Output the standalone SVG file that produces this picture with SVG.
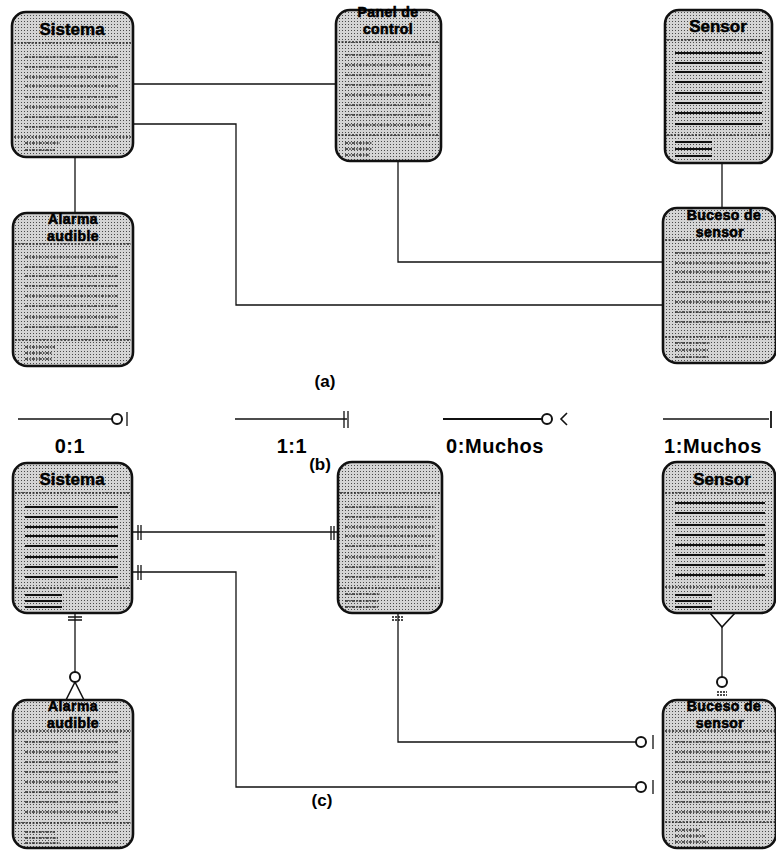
<svg xmlns="http://www.w3.org/2000/svg" width="776" height="850" viewBox="0 0 776 850">
  <defs>
    <!-- halftone stipple used to fill the class boxes -->
    <pattern id="stip" width="3" height="3" patternUnits="userSpaceOnUse">
      <rect width="3" height="3" fill="#d4d4d4"/>
      <rect width="1" height="1" fill="#4a4a4a"/>
    </pattern>
    <style>
      .box { fill: url(#stip); stroke: #111; stroke-width: 2.6; }
      .sep { fill: none; stroke: #222; stroke-width: 1.5; stroke-dasharray: 2 1.5; }
      .dl { fill: none; stroke: #2a2a2a; stroke-width: 1.5; stroke-dasharray: 3 1.2 1.5 1.2; }
      .sl { fill: none; stroke: #111; stroke-width: 2.2; }
      .t { font-family: "Liberation Sans", Arial, sans-serif; font-weight: bold; font-size: 17px; text-anchor: middle; fill: #000; stroke: #000; stroke-width: 0.5; }
      .t2 { font-size: 14px; stroke-width: 0.6; letter-spacing: 0.4px; }
      .wire { fill: none; stroke: #111; stroke-width: 1.3; }
      .mk { fill: none; stroke: #111; stroke-width: 1.3; }
      .ring { fill: #fff; stroke: #111; stroke-width: 2; }
      .lbl { font-family: "Liberation Sans", Arial, sans-serif; font-weight: bold; font-size: 20px; text-anchor: middle; fill: #000; letter-spacing: 0.6px; }
      .cap { font-family: "Liberation Sans", Arial, sans-serif; font-weight: bold; font-size: 17px; text-anchor: middle; fill: #000; }
    </style>
  </defs>

  <!-- ===== (a) ===== -->
  <g id="connectors-a">
    <path class="wire" d="M133 84H337"/>
    <path class="wire" d="M133 124H236V305H663"/>
    <path class="wire" d="M75 157V213"/>
    <path class="wire" d="M398 161V262H663"/>
    <path class="wire" d="M722 163V208"/>
  </g>

  <g id="sistema-a">
    <rect class="box" x="12" y="12" width="121" height="145" rx="14"/>
    <text class="t" x="72" y="35">Sistema</text>
    <path class="sep" d="M14 43H131M14 137H131"/>
    <path class="dl" d="M25 57H118M25 67H118M25 77H118M25 86H118M25 97H118M25 107H118M25 117H118M25 127H118"/>
    <path class="dl" d="M25 143H60M25 150H55"/>
  </g>

  <g id="panel-a">
    <rect class="box" x="336" y="10" width="105" height="151" rx="14"/>
    <text class="t t2" x="388" y="17">Panel de<tspan x="388" dy="17">control</tspan></text>
    <path class="sep" d="M338 42H439M338 135H439"/>
    <path class="dl" d="M345 55H432M345 65H432M345 75H432M345 85H432M345 95H432M345 105H432M345 115H432M345 125H432"/>
    <path class="dl" d="M345 143H372M345 149H372M345 155H370"/>
  </g>

  <g id="sensor-a">
    <rect class="box" x="665" y="10" width="107" height="153" rx="14"/>
    <text class="t" x="718" y="32">Sensor</text>
    <path class="sep" d="M667 40H770M667 135H770"/>
    <path class="sl" d="M675 53H762M675 63H762M675 72H762M675 82H762M675 93H762M675 103H762M675 113H762M675 124H762"/>
    <path class="sl" d="M675 142H712M675 149H712M675 156H712"/>
  </g>

  <g id="alarma-a">
    <rect class="box" x="13" y="213" width="120" height="153" rx="14"/>
    <text class="t t2" x="73" y="224">Alarma<tspan x="73" dy="17">audible</tspan></text>
    <path class="sep" d="M15 244H131M15 340H131"/>
    <path class="dl" d="M25 257H118M25 267H118M25 276H118M25 286H118M25 296H118M25 306H118M25 317H118M25 327H118"/>
    <path class="dl" d="M25 347H55M25 353H52M25 359H52"/>
  </g>

  <g id="suceso-a">
    <rect class="box" x="663" y="208" width="113" height="155" rx="14"/>
    <text class="t t2" x="724" y="220">Buceso de<tspan x="720" dy="17">sensor</tspan></text>
    <path class="sep" d="M665 240H776M665 337H776"/>
    <path class="dl" d="M675 253H770M675 263H770M675 272H770M675 282H770M675 292H770M675 302H770M675 312H770M675 322H770"/>
    <path class="dl" d="M675 343H710M675 350H708M675 357H708"/>
  </g>

  <text class="cap" x="325" y="387">(a)</text>

  <!-- ===== (b) cardinality legend ===== -->
  <g id="legend">
    <path class="wire" d="M18 419H112"/>
    <circle class="ring" cx="117" cy="419" r="5"/>
    <path class="mk" d="M127 412V426"/>
    <text class="lbl" x="70" y="453">0:1</text>

    <path class="wire" d="M235 419H347"/>
    <path class="mk" d="M344 411V428M348 411V428"/>
    <text class="lbl" x="292" y="453">1:1</text>

    <path class="wire" style="stroke-width:1.8" d="M443 419H542"/>
    <circle class="ring" cx="547" cy="419" r="5"/>
    <path class="mk" style="stroke-width:1.6" d="M567 413L561 419L567 425"/>
    <text class="lbl" x="495" y="453">0:Muchos</text>

    <path class="wire" d="M663 419H769"/>
    <path class="mk" style="stroke-width:1.8" d="M771 411V428"/>
    <text class="lbl" x="713" y="453">1:Muchos</text>
  </g>

  <text class="cap" x="320" y="470">(b)</text>

  <!-- ===== (c) ===== -->
  <g id="connectors-c">
    <path class="wire" d="M132 532H337"/>
    <path class="wire" d="M132 572H236V787H636"/>
    <path class="wire" d="M398 613V742H636"/>
    <path class="wire" d="M75 613V672"/>
    <path class="wire" d="M722 627V677"/>
    <!-- crow's feet -->
    <path class="mk" style="stroke-width:1.6" d="M710 613L722 627L735 613"/>
    <path class="mk" style="stroke-width:1.6" d="M75 682L66 700M75 682L84 700"/>
    <!-- optional rings -->
    <circle class="ring" cx="75" cy="677" r="5"/>
    <circle class="ring" cx="722" cy="682" r="5"/>
    <circle class="ring" cx="641" cy="742" r="5"/>
    <circle class="ring" cx="641" cy="787" r="5"/>
    <!-- bars -->
    <path class="mk" d="M653 735V749M653 780V794"/>
    <path class="mk" d="M138 525V540M141 525V540M138 565V580M141 565V580"/>
    <path class="mk" d="M331 526V540M334 526V540"/>
    <path class="mk" d="M68 617H82M68 620H82"/>
    <path class="mk" style="stroke-dasharray:2 1" d="M392 617H404M392 620H404"/>
    <path class="mk" style="stroke-dasharray:2 1" d="M717 692H727M717 695H727"/>
  </g>

  <g id="sistema-c">
    <rect class="box" x="13" y="463" width="119" height="150" rx="14"/>
    <text class="t" x="72" y="485">Sistema</text>
    <path class="sep" d="M15 493H130M15 588H130"/>
    <path class="sl" d="M25 507H118M25 517H118M25 527H118M25 536H118M25 546H118M25 557H118M25 567H118M25 577H118"/>
    <path class="sl" d="M25 595H62M25 601H62M25 607H62"/>
  </g>

  <g id="panel-c">
    <rect class="box" x="338" y="462" width="104" height="151" rx="14"/>
    <path class="sep" d="M340 493H440M340 588H440"/>
    <path class="dl" d="M345 507H435M345 517H435M345 527H435M345 536H435M345 546H435M345 557H435M345 567H435M345 577H435"/>
    <path class="dl" d="M345 594H380M345 601H378M345 607H378"/>
  </g>

  <g id="sensor-c">
    <rect class="box" x="663" y="462" width="112" height="151" rx="14"/>
    <text class="t" x="722" y="485">Sensor</text>
    <path class="sep" d="M665 493H773M665 587H773"/>
    <path class="sl" d="M675 503H765M675 513H765M675 525H765M675 535H765M675 545H765M675 555H765M675 565H765M675 575H765"/>
    <path class="sl" d="M675 595H712M675 601H712M675 607H712"/>
  </g>

  <g id="alarma-c">
    <rect class="box" x="13" y="700" width="120" height="148" rx="14"/>
    <text class="t t2" x="73" y="711">Alarma<tspan x="73" dy="17">audible</tspan></text>
    <path class="sep" d="M15 731H131M15 823H131"/>
    <path class="dl" d="M25 742H118M25 752H118M25 762H118M25 772H118M25 782H118M25 792H118M25 802H118M25 812H118"/>
    <path class="dl" d="M25 832H55M25 838H58M25 843H60"/>
  </g>

  <g id="suceso-c">
    <rect class="box" x="663" y="700" width="113" height="148" rx="14"/>
    <text class="t t2" x="724" y="711">Buceso de<tspan x="720" dy="17">sensor</tspan></text>
    <path class="sep" d="M665 731H776M665 822H776"/>
    <path class="dl" d="M675 742H770M675 752H770M675 762H770M675 772H770M675 782H770M675 792H770M675 802H770M675 812H770"/>
    <path class="dl" d="M675 830H700M675 836H705M675 842H708"/>
  </g>

  <text class="cap" x="322" y="806">(c)</text>
</svg>
